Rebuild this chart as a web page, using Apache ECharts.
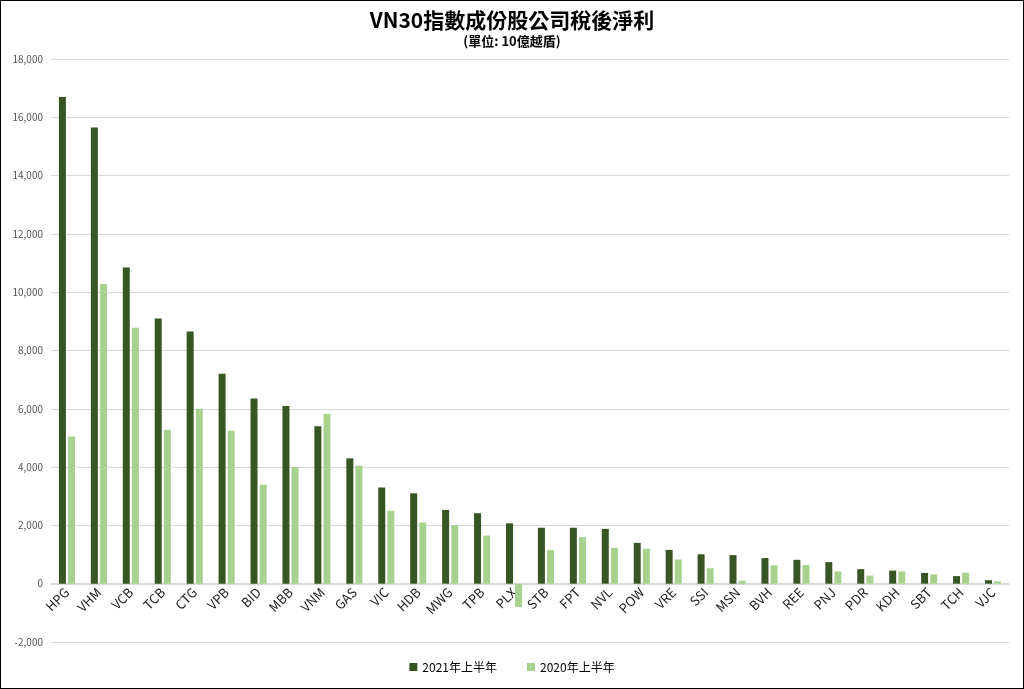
<!DOCTYPE html>
<html><head><meta charset="utf-8">
<script src="https://cdn.jsdelivr.net/npm/echarts@6/dist/echarts.min.js"></script>
<style>html,body{margin:0;padding:0;background:#fff}#c{width:1022px;height:687px;border:1px solid #000}</style>
</head><body><div id="c"></div>
<script>
const categories = ['HPG','VHM','VCB','TCB','CTG','VPB','BID','MBB','VNM','GAS','VIC','HDB','MWG','TPB','PLX','STB','FPT','NVL','POW','VRE','SSI','MSN','BVH','REE','PNJ','PDR','KDH','SBT','TCH','VJC'];
const h1_2021 = [16700,15650,10850,9100,8650,7200,6350,6100,5400,4300,3300,3100,2530,2420,2070,1920,1920,1880,1400,1160,1010,980,880,820,740,500,450,370,260,120];
const h1_2020 = [5050,10280,8780,5280,6000,5250,3400,4000,5830,4050,2500,2100,2000,1650,-800,1150,1600,1230,1200,830,530,100,630,640,420,280,420,320,380,80];

const chart = echarts.init(document.getElementById('c'));
chart.setOption({
  animation:false,
  textStyle:{fontFamily:'"Noto Sans CJK TC", Arial, sans-serif'},
  title:{text:'VN30指數成份股公司稅後淨利',subtext:'(單位: 10億越盾)',left:'center',top:4,itemGap:4,
    textStyle:{fontSize:21,fontWeight:'bold',color:'#000'},
    subtextStyle:{fontSize:13,fontWeight:'bold',color:'#000'}},
  legend:{bottom:10,itemWidth:8,itemHeight:8,itemGap:30,textStyle:{fontSize:12,color:'#000'},
    data:[{name:'2021年上半年',icon:'rect'},{name:'2020年上半年',icon:'rect'}]},
  grid:{left:50,right:14,top:58,bottom:46,containLabel:false},
  xAxis:{type:'category',data:categories,axisTick:{show:false},offset:-58,
    axisLine:{onZero:false,lineStyle:{color:'#d9d9d9'}},
    axisLabel:{rotate:45,color:'#222',fontSize:13,interval:0,margin:6}},
  yAxis:{type:'value',min:-2000,max:18000,interval:2000,
    axisLabel:{color:'#555',fontSize:10,formatter:v=>v.toLocaleString('en-US')},
    splitLine:{lineStyle:{color:'#d9d9d9'}}},
  series:[
    {name:'2021年上半年',type:'bar',data:h1_2021,itemStyle:{color:'#375623'},barWidth:7,barGap:'30%'},
    {name:'2020年上半年',type:'bar',data:h1_2020,itemStyle:{color:'#a9d18e'},barWidth:7}
  ]
});
</script></body></html>
